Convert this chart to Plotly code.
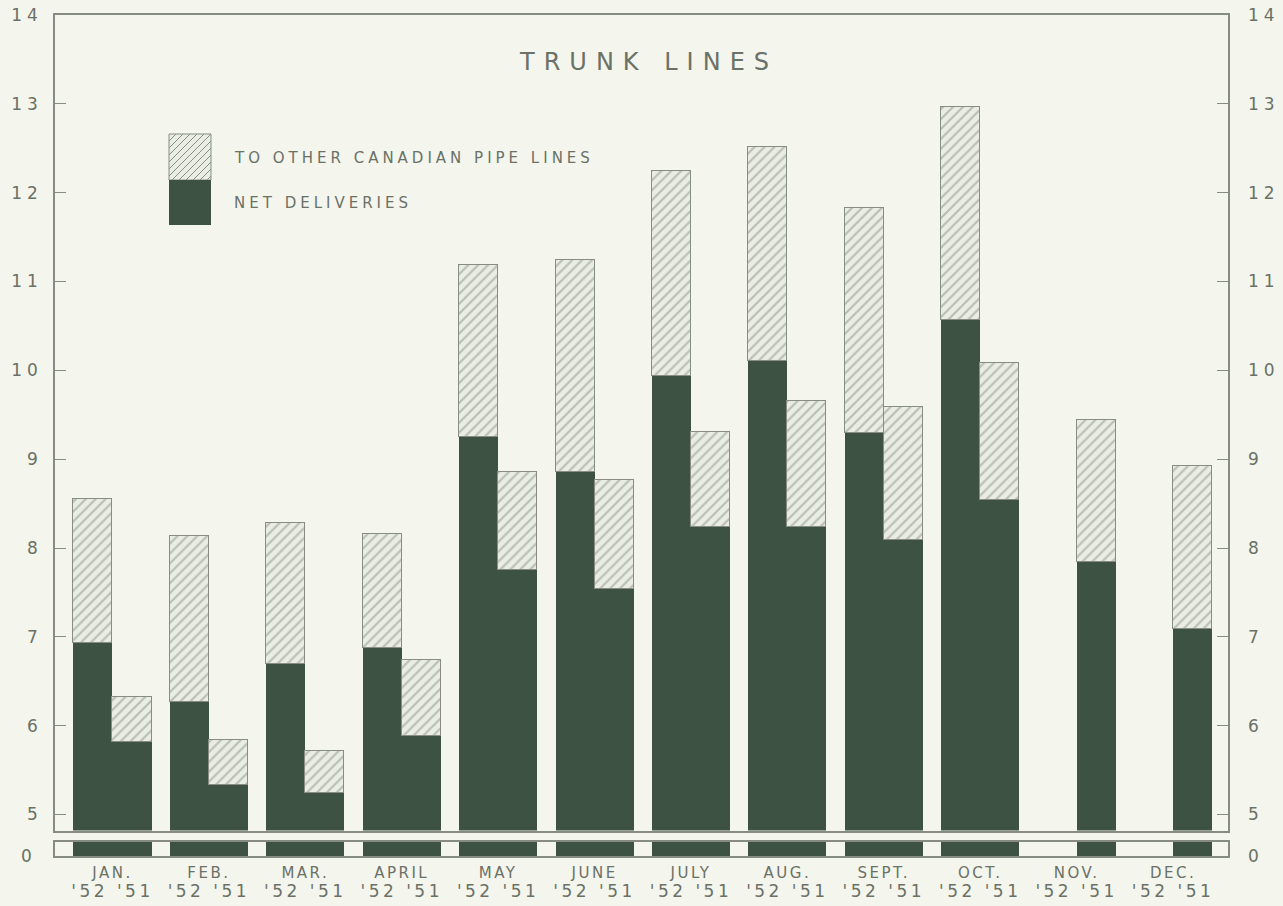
import plotly.graph_objects as go

# ---------------- data ----------------
months = ["JAN.", "FEB.", "MAR.", "APRIL", "MAY", "JUNE", "JULY", "AUG.", "SEPT.", "OCT.", "NOV.", "DEC."]
year_labels = "'52 '51"
net_52 = [6.93, 6.27, 6.69, 6.88, 9.25, 8.86, 9.94, 10.10, 9.30, 10.57, None, None]
other_52 = [1.62, 1.86, 1.59, 1.28, 1.94, 2.38, 2.30, 2.41, 2.53, 2.39, None, None]
net_51 = [5.82, 5.33, 5.24, 5.88, 7.75, 7.54, 8.24, 8.24, 8.09, 8.54, 7.84, 7.09]
other_51 = [0.50, 0.51, 0.47, 0.86, 1.11, 1.22, 1.07, 1.41, 1.50, 1.54, 1.60, 1.83]
y_ticks = [5, 6, 7, 8, 9, 10, 11, 12, 13, 14]
title_text = "TRUNK LINES"
legend_other = "TO OTHER CANADIAN PIPE LINES"
legend_net = "NET DELIVERIES"

# ---------------- style ----------------
BG = "#f4f5ed"
DARK = "#3d5243"
HATCH_BG = "#eaede4"
HATCH_FG = "#878d83"
AXIS = "#868c82"
TEXT = "#6a7166"
FONT = "DejaVu Sans"

W, H = 1283, 906
L, R, T, B = 55, 55, 15, 50
PW, PH = W - L - R, H - T - B

def py2paper(py):
    return (H - B - py) / PH

def px2paper(px):
    return (px - L) / PW

idx = list(range(len(months)))
half = 0.2025
bw = 0.405
x52 = [i - half for i in idx]
x51 = [i + half for i in idx]

hatch = dict(color=HATCH_BG,
             pattern=dict(shape="/", fgcolor=HATCH_FG, bgcolor=HATCH_BG, size=7, solidity=0.3),
             line=dict(color=HATCH_FG, width=1.2))
dark = dict(color=DARK, line=dict(color=DARK, width=0))

fig = go.Figure()
fig.add_trace(go.Bar(x=x52, y=net_52, width=bw, marker=dark, xaxis="x", yaxis="y", showlegend=False))
fig.add_trace(go.Bar(x=x52, y=other_52, width=bw, marker=hatch, xaxis="x", yaxis="y", showlegend=False))
fig.add_trace(go.Bar(x=x51, y=net_51, width=bw, marker=dark, xaxis="x", yaxis="y", showlegend=False))
fig.add_trace(go.Bar(x=x51, y=other_51, width=bw, marker=hatch, xaxis="x", yaxis="y", showlegend=False))
# broken-axis strip near zero
fig.add_trace(go.Bar(x=x52, y=net_52, width=bw, marker=dark, xaxis="x2", yaxis="y2", showlegend=False))
fig.add_trace(go.Bar(x=x51, y=net_51, width=bw, marker=dark, xaxis="x2", yaxis="y2", showlegend=False))
# empty traces so the right-hand mirror axes are drawn
fig.add_trace(go.Scatter(x=[None], y=[None], xaxis="x", yaxis="y3", showlegend=False, hoverinfo="skip"))
fig.add_trace(go.Scatter(x=[None], y=[None], xaxis="x2", yaxis="y4", showlegend=False, hoverinfo="skip"))

main_bottom_px = 830.5
strip_top_px = 842
yr = [4.82, 14]
xr = [-0.596, 11.57]

def sp(text, ls):
    return f'<span style="letter-spacing:{ls}px">{text}</span>'

tick_font = dict(family=FONT, size=17, color=TEXT)
yt_text = [sp(str(v), 5) for v in y_ticks]
common_y = dict(ticks="inside", ticklen=11, tickcolor=AXIS, tickwidth=1.2,
                tickfont=tick_font, showgrid=False, zeroline=False, automargin=False)
fig.update_layout(
    width=W, height=H,
    margin=dict(l=L, r=R, t=T, b=B, autoexpand=False),
    paper_bgcolor=BG, plot_bgcolor=BG,
    barmode="stack", bargap=0,
    showlegend=False,
    xaxis=dict(domain=[0, 1], anchor="y", range=xr, showticklabels=False, ticks="",
               showgrid=False, zeroline=False, showline=True, mirror=True,
               linecolor=AXIS, linewidth=1.5, automargin=False),
    yaxis=dict(domain=[py2paper(main_bottom_px), 1], anchor="x", range=yr,
               tickvals=y_ticks, ticktext=yt_text, ticklabelstandoff=7,
               showline=True, mirror=True, linecolor=AXIS, linewidth=1.5, **common_y),
    yaxis3=dict(overlaying="y", side="right", anchor="x", range=yr,
                tickvals=y_ticks, ticktext=yt_text, ticklabelstandoff=19,
                showline=False, **common_y),
    xaxis2=dict(domain=[0, 1], anchor="y2", range=xr, matches="x",
                tickvals=idx,
                ticktext=[sp(m, 2.5) + "<br>" + f'<span style="letter-spacing:3.5px;font-size:17px">{year_labels}</span>'
                          for m in months],
                ticks="", tickfont=dict(family=FONT, size=15, color=TEXT),
                ticklabelstandoff=2, automargin=False,
                showgrid=False, zeroline=False, showline=True, mirror=True,
                linecolor=AXIS, linewidth=1.5),
    yaxis2=dict(domain=[0, py2paper(strip_top_px)], anchor="x2", range=[0, 0.2],
                tickvals=[0], ticktext=["0"], ticks="", tickfont=tick_font,
                ticklabelstandoff=18, automargin=False,
                showgrid=False, zeroline=False, showline=True, mirror=True,
                linecolor=AXIS, linewidth=1.5),
    yaxis4=dict(overlaying="y2", side="right", anchor="x2", range=[0, 0.2],
                tickvals=[0], ticktext=["0"], ticks="", tickfont=tick_font,
                ticklabelstandoff=19, automargin=False,
                showgrid=False, zeroline=False, showline=False),
)

# title
fig.add_annotation(text=sp(title_text, 9), xref="paper", yref="paper",
                   x=px2paper(648), y=py2paper(62), showarrow=False,
                   xanchor="center", yanchor="middle",
                   font=dict(family=FONT, size=24, color=TEXT))

# legend swatch (decoration drawn as shapes)
sx0, sx1 = 169, 211
sy_top, sy_mid, sy_bot = 134, 180, 225
fig.add_shape(type="rect", xref="paper", yref="paper",
              x0=px2paper(sx0), x1=px2paper(sx1), y0=py2paper(sy_mid), y1=py2paper(sy_top),
              fillcolor=HATCH_BG, line=dict(color=HATCH_FG, width=1))
fig.add_shape(type="rect", xref="paper", yref="paper",
              x0=px2paper(sx0), x1=px2paper(sx1), y0=py2paper(sy_bot), y1=py2paper(sy_mid),
              fillcolor=DARK, line=dict(color=DARK, width=0))
step = 7
segs = []
for k in range(0, 200):
    cc = sx0 + sy_top + k * step
    if cc > sx1 + sy_mid:
        break
    pts = []
    for px in (sx0, sx1):
        py = cc - px
        if sy_top <= py <= sy_mid:
            pts.append((px, py))
    for py in (sy_top, sy_mid):
        px = cc - py
        if sx0 <= px <= sx1:
            pts.append((px, py))
    if len(pts) >= 2:
        (a, b), (c2, d) = pts[0], pts[-1]
        if (a, b) != (c2, d):
            segs.append(f"M{px2paper(a)},{py2paper(b)} L{px2paper(c2)},{py2paper(d)}")
if segs:
    fig.add_shape(type="path", xref="paper", yref="paper", path=" ".join(segs),
                  line=dict(color=HATCH_FG, width=1))

fig.add_annotation(text=sp(legend_other, 4), xref="paper", yref="paper",
                   x=px2paper(232), y=py2paper(158), showarrow=False,
                   xanchor="left", yanchor="middle",
                   font=dict(family=FONT, size=15, color=TEXT))
fig.add_annotation(text=sp(legend_net, 4), xref="paper", yref="paper",
                   x=px2paper(232), y=py2paper(203), showarrow=False,
                   xanchor="left", yanchor="middle",
                   font=dict(family=FONT, size=15, color=TEXT))

fig.write_html("out.html",
               config={"displayModeBar": False},
               post_script="document.body.style.margin='0';document.body.style.background='" + BG + "';")
